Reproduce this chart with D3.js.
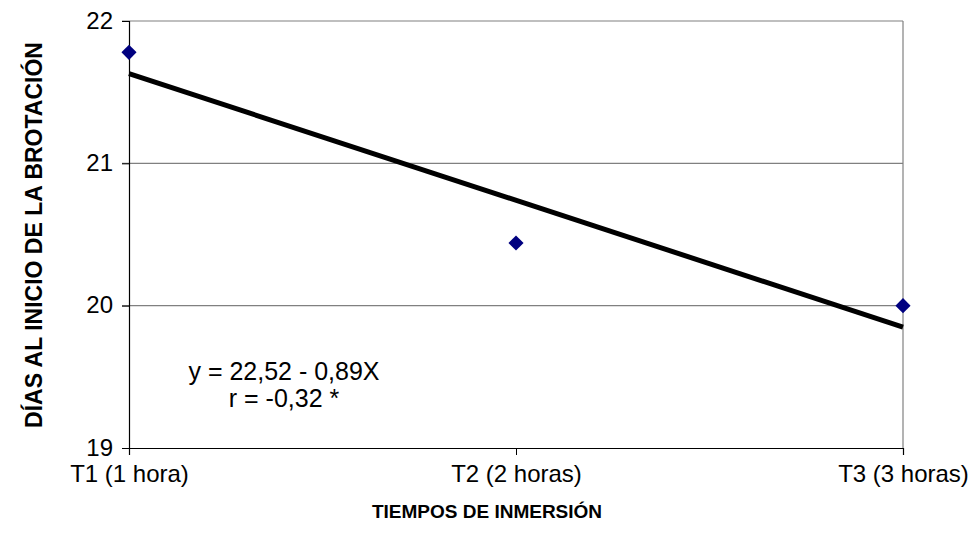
<!DOCTYPE html>
<html><head><meta charset="utf-8">
<script src="https://cdn.jsdelivr.net/npm/d3@7"></script>
<style>body{margin:0;background:#fff}text{font-family:"Liberation Sans",Arial,sans-serif}</style>
</head><body><svg id="c" width="973" height="544"></svg>
<script>
const categories = ["T1 (1 hora)", "T2 (2 horas)", "T3 (3 horas)"];
const xValues = [1, 2, 3];
const days = [21.78, 20.44, 20.0];
const yTicks = [19, 20, 21, 22];
const trendIntercept = 22.52, trendSlope = -0.89;
const equationLines = ["y = 22,52 - 0,89X", "r = -0,32 *"];

const svg = d3.select("#c");
const L = 129, R = 903, T = 21, B = 448;
const x = d3.scaleLinear().domain([1, 3]).range([L, R]);
const y = d3.scaleLinear().domain([19, 22]).range([B, T]);
const FF = "Liberation Sans, Arial, sans-serif";

// gridlines
svg.append("g").selectAll("line").data(yTicks.filter(d => d > 19)).join("line")
  .attr("x1", L - 7).attr("x2", R).attr("y1", d => y(d)).attr("y2", d => y(d))
  .attr("stroke", "#808080").attr("stroke-width", 1.2);
// right border
svg.append("line").attr("x1", R).attr("x2", R).attr("y1", T).attr("y2", B)
  .attr("stroke", "#808080").attr("stroke-width", 1.2);

// y axis
const ya = svg.append("g").attr("transform", `translate(${L},0)`)
  .call(d3.axisLeft(y).tickValues(yTicks).tickSize(7).tickPadding(9).tickFormat(d3.format("d")));
ya.select(".domain").attr("stroke", "#000").attr("stroke-width", 1.2);
ya.selectAll(".tick line").attr("stroke", "#000");
ya.selectAll("text").attr("font-size", 24).attr("dy", "0.3em").attr("fill", "#000").style("font-family", FF);

// x axis
const xa = svg.append("g").attr("transform", `translate(0,${B})`)
  .call(d3.axisBottom(x).tickValues(xValues).tickSize(7).tickPadding(10).tickFormat((d, i) => categories[i]));
xa.select(".domain").attr("stroke", "#000").attr("stroke-width", 1.2);
xa.selectAll(".tick line").attr("stroke", "#000");
xa.selectAll("text").attr("font-size", 24).attr("fill", "#000").style("font-family", FF);

// trend line
svg.append("line")
  .attr("x1", x(1)).attr("y1", y(trendIntercept + trendSlope * 1))
  .attr("x2", x(3)).attr("y2", y(trendIntercept + trendSlope * 3))
  .attr("stroke", "#000").attr("stroke-width", 5);

// points
svg.append("g").selectAll("path").data(days).join("path")
  .attr("d", d3.symbol().type(d3.symbolSquare).size(115))
  .attr("transform", (d, i) => `translate(${x(xValues[i])},${y(d)}) rotate(45)`)
  .attr("fill", "#000080");

// equation
svg.append("text").attr("x", 284).attr("y", 380).attr("text-anchor", "middle")
  .attr("font-size", 25).text(equationLines[0]);
svg.append("text").attr("x", 284).attr("y", 407).attr("text-anchor", "middle")
  .attr("font-size", 25).text(equationLines[1]);

// axis titles
svg.append("text").attr("x", 487).attr("y", 518).attr("text-anchor", "middle")
  .attr("font-size", 19).attr("font-weight", "bold").text("TIEMPOS DE INMERSIÓN");
svg.append("text").attr("transform", "translate(42,235) rotate(-90)").attr("text-anchor", "middle")
  .attr("font-size", 23).attr("font-weight", "bold").text("DÍAS AL INICIO DE LA BROTACIÓN");
</script></body></html>
